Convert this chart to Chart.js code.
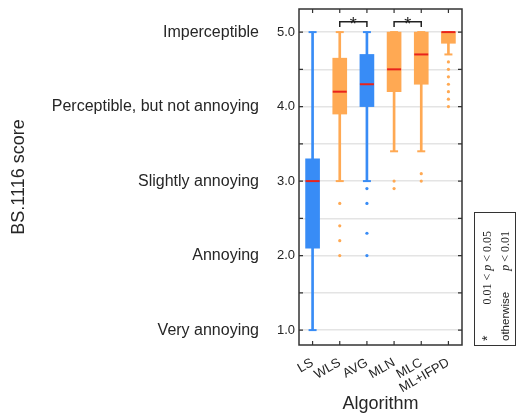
<!DOCTYPE html>
<html><head><meta charset="utf-8">
<style>html,body{margin:0;padding:0;background:#fff;}#wrap{width:516px;height:415px;position:relative;}</style>
<script src="https://cdn.jsdelivr.net/npm/chart.js@4.4.1/dist/chart.umd.min.js"></script>
</head><body><div id="wrap"><canvas id="c" width="516" height="415"></canvas></div>
<script>
// ---- data ----
const categories = ['LS', 'WLS', 'AVG', 'MLN', 'MLC', 'ML+IFPD'];
const whiskerLow = [1.0, 3.0, 3.0, 3.4, 3.4, 4.7];
const q1 = [2.1, 3.9, 4.0, 4.2, 4.3, 4.85];
const median = [3.0, 4.2, 4.3, 4.5, 4.7, 5.0];
const q3 = [3.3, 4.65, 4.7, 5.0, 5.0, 5.0];
const whiskerHigh = [5.0, 5.0, 5.0, 5.0, 5.0, 5.0];
const outliersLS = [];
const outliersWLS = [2.7, 2.4, 2.2, 2.0];
const outliersAVG = [2.9, 2.7, 2.3, 2.0];
const outliersMLN = [3.0, 2.9];
const outliersMLC = [3.1, 3.0];
const outliersMLIFPD = [4.6, 4.5, 4.4, 4.3, 4.2, 4.1, 4.0];
const scoreTicks = [1, 2, 3, 4, 5];
const gridTicks = [1, 1.5, 2, 2.5, 3, 3.5, 4, 4.5, 5];
const scoreLabels = ['Very annoying', 'Annoying', 'Slightly annoying', 'Perceptible, but not annoying', 'Imperceptible'];
const sigPairs = [['WLS', 'AVG'], ['MLN', 'MLC']];
const groupOf = ['blue', 'orange', 'blue', 'orange', 'orange', 'orange'];

// ---- styles ----
const BLUE = '#388cf6', ORANGE = '#ffa953', RED = '#e8231c', INK = '#262626', FRAME = '#333333';
const FONT = "'Liberation Sans', Arial, sans-serif";
const colors = groupOf.map(g => g === 'blue' ? BLUE : ORANGE);
const outlierSets = [outliersLS, outliersWLS, outliersAVG, outliersMLN, outliersMLC, outliersMLIFPD];
const outlierPts = [], outlierCols = [];
outlierSets.forEach((arr, i) => arr.forEach(v => { outlierPts.push({x: categories[i], y: v}); outlierCols.push(colors[i]); }));

const decor = {
  id: 'decor',
  afterDraw(chart) {
    const ctx = chart.ctx, a = chart.chartArea, xs = chart.scales.x, ys = chart.scales.y;
    ctx.save();
    // frame
    ctx.strokeStyle = FRAME; ctx.lineWidth = 1.5;
    ctx.strokeRect(a.left, a.top, a.right - a.left, a.bottom - a.top);
    // inward tick marks
    ctx.lineWidth = 1.2;
    gridTicks.forEach(v => {
      const y = ys.getPixelForValue(v);
      ctx.beginPath(); ctx.moveTo(a.left, y); ctx.lineTo(a.left + 4, y);
      ctx.moveTo(a.right, y); ctx.lineTo(a.right - 4, y); ctx.stroke();
    });
    categories.forEach((c, i) => {
      const x = xs.getPixelForValue(i);
      ctx.beginPath(); ctx.moveTo(x, a.bottom); ctx.lineTo(x, a.bottom - 4);
      ctx.moveTo(x, a.top); ctx.lineTo(x, a.top + 4); ctx.stroke();
    });
    // significance brackets
    ctx.lineWidth = 1.5; ctx.strokeStyle = '#222';
    sigPairs.forEach(p => {
      const x1 = xs.getPixelForValue(categories.indexOf(p[0]));
      const x2 = xs.getPixelForValue(categories.indexOf(p[1]));
      const yl = ys.getPixelForValue(5.14), yb = ys.getPixelForValue(5.07);
      ctx.beginPath(); ctx.moveTo(x1, yb); ctx.lineTo(x1, yl); ctx.lineTo(x2, yl); ctx.lineTo(x2, yb); ctx.stroke();
      ctx.fillStyle = '#222'; ctx.font = '18px ' + FONT; ctx.textAlign = 'center'; ctx.textBaseline = 'alphabetic';
      ctx.fillText('*', (x1 + x2) / 2, yl + 8);
    });
    // legend box
    const bx = 474, by = 212, bw = 41, bh = a.bottom - by;
    ctx.lineWidth = 1; ctx.strokeStyle = FRAME;
    ctx.strokeRect(bx + 0.5, by + 0.5, bw, bh);
    const startY = a.bottom - 4, endY = by + 19;
    function rotRow(cx, runsLeft, runsRight) {
      ctx.save();
      ctx.translate(cx, 0); ctx.rotate(-Math.PI / 2);
      ctx.textBaseline = 'middle'; ctx.textAlign = 'left'; ctx.fillStyle = INK;
      let pos = -startY;
      runsLeft.forEach(r => { ctx.font = r[1]; ctx.fillText(r[0], pos, 0); pos += ctx.measureText(r[0]).width; });
      let total = 0;
      runsRight.forEach(r => { ctx.font = r[1]; total += ctx.measureText(r[0]).width; });
      pos = -endY - total;
      runsRight.forEach(r => { ctx.font = r[1]; ctx.fillText(r[0], pos, 0); pos += ctx.measureText(r[0]).width; });
      ctx.restore();
    }
    const SER = "12px 'Liberation Serif', 'DejaVu Serif', serif";
    const SERI = "italic 12px 'Liberation Serif', 'DejaVu Serif', serif";
    const SANS = '11.5px ' + FONT;
    rotRow(488, [['*', '14px ' + FONT]], [['0.01 < ', SER], ['p', SERI], [' < 0.05', SER]]);
    rotRow(506, [['otherwise', SANS]], [['p', SERI], [' < 0.01', SER]]);
    ctx.restore();
  }
};

function noPad(s) { s.paddingTop = 0; s.paddingBottom = 0; }

new Chart(document.getElementById('c'), {
  type: 'bar',
  data: {
    labels: categories,
    datasets: [
      { type: 'bar', data: categories.map((c, i) => [whiskerLow[i], whiskerHigh[i]]), backgroundColor: colors,
        barThickness: 2, grouped: false, order: 10 },
      { type: 'line', data: whiskerLow, showLine: false, pointStyle: 'line', pointRadius: 4,
        pointBorderColor: colors, pointBorderWidth: 2, order: 9 },
      { type: 'line', data: whiskerHigh, showLine: false, pointStyle: 'line', pointRadius: 4,
        pointBorderColor: colors, pointBorderWidth: 2, order: 9 },
      { type: 'bar', data: categories.map((c, i) => [q1[i], q3[i]]), backgroundColor: colors,
        barThickness: 14, grouped: false, order: 5 },
      { type: 'line', data: median, showLine: false, pointStyle: 'line', pointRadius: 7,
        pointBorderColor: RED, pointBorderWidth: 2, order: 1 },
      { type: 'line', data: outlierPts, showLine: false, pointStyle: 'circle', pointRadius: 1.6,
        pointBackgroundColor: outlierCols, pointBorderWidth: 0, order: 2 }
    ]
  },
  options: {
    responsive: false, animation: false, devicePixelRatio: 1,
    layout: { padding: { top: 8, right: 54, left: 0, bottom: 0 } },
    plugins: { legend: { display: false }, tooltip: { enabled: false } },
    scales: {
      x: {
        type: 'category', offset: true,
        grid: { display: false }, border: { display: false },
        ticks: { color: INK, font: { family: FONT, size: 13 }, minRotation: 30, maxRotation: 30, padding: 2, autoSkip: false },
        title: { display: true, text: 'Algorithm', color: INK, font: { family: FONT, size: 18 }, padding: { top: 4, bottom: 0 } },
        afterFit: s => { s.height = 70; }
      },
      y: {
        type: 'linear', position: 'left', weight: 0, min: 0.8, max: 5.31,
        afterBuildTicks: s => { s.ticks = gridTicks.map(v => ({ value: v })); },
        ticks: { color: INK, font: { family: FONT, size: 13 }, padding: 4, autoSkip: false,
          callback: v => Number.isInteger(v) ? v.toFixed(1) : '' },
        grid: { color: '#e4e4e4', lineWidth: 1.5, drawTicks: false },
        border: { display: false },
        afterFit: s => { s.width = 37; noPad(s); }
      },
      y2: {
        type: 'linear', position: 'left', weight: 1, min: 0.8, max: 5.31,
        afterBuildTicks: s => { s.ticks = scoreTicks.map(v => ({ value: v })); },
        ticks: { color: INK, font: { family: FONT, size: 16 }, padding: 3, autoSkip: false,
          callback: v => scoreLabels[scoreTicks.indexOf(v)] },
        grid: { display: false, drawTicks: false }, border: { display: false },
        title: { display: true, text: 'BS.1116 score', color: INK, font: { family: FONT, size: 18 }, padding: { top: 8, bottom: 0 } },
        afterFit: s => { s.width = 262; noPad(s); }
      }
    }
  },
  plugins: [decor]
});
</script>
</body></html>
